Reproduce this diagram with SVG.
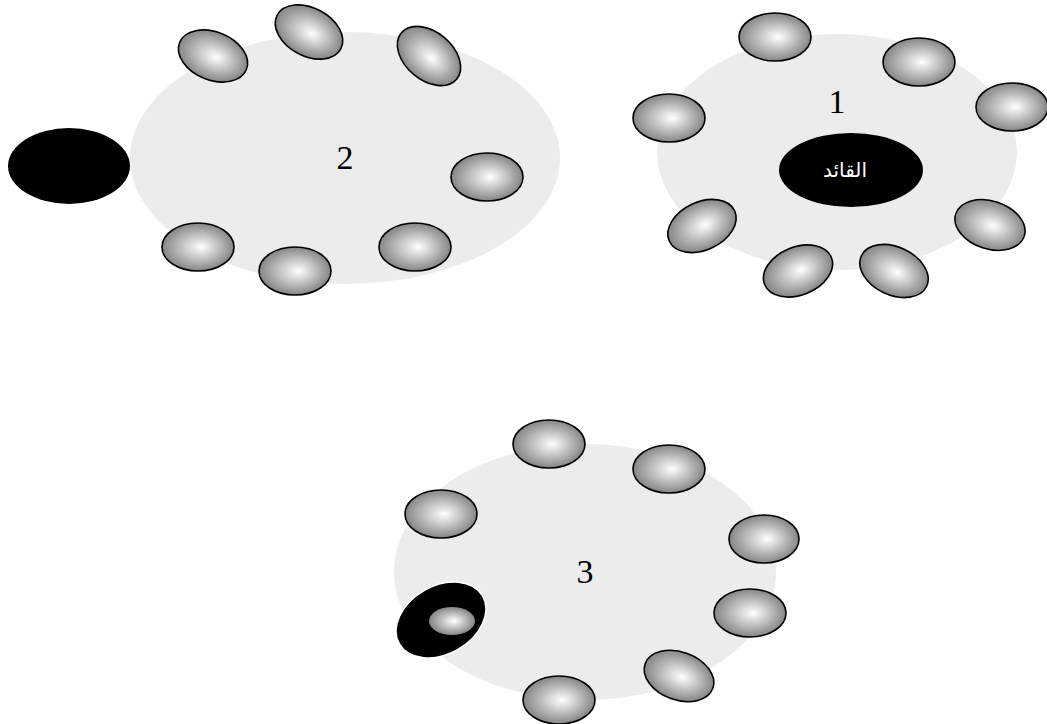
<svg xmlns="http://www.w3.org/2000/svg" width="1047" height="724" viewBox="0 0 1047 724">
<defs>
<radialGradient id="g" cx="0.5" cy="0.5" r="0.5" fx="0.55" fy="0.5">
<stop offset="0" stop-color="#ffffff"/>
<stop offset="1" stop-color="#858585"/>
</radialGradient>
<style>
.big{fill:#ececec;stroke:none}
.m{fill:url(#g);stroke:#000;stroke-width:1.6}
.num{font-family:"Liberation Serif",serif;font-size:34px;fill:#000;text-anchor:middle}
.lead{fill:#000}
</style>
</defs>
<rect width="1047" height="724" fill="#fff"/>
<g id="group1">
<ellipse class="big" cx="837" cy="152" rx="180" ry="118"/>
<ellipse class="m" cx="775" cy="37" rx="36" ry="24"/>
<ellipse class="m" cx="919" cy="62" rx="36" ry="24"/>
<ellipse class="m" cx="1012" cy="107" rx="36" ry="24"/>
<ellipse class="m" cx="669" cy="118" rx="36" ry="24"/>
<ellipse class="m" cx="702" cy="226" rx="36" ry="24" transform="rotate(-25 702 226)"/>
<ellipse class="m" cx="798" cy="271" rx="36" ry="24" transform="rotate(-22 798 271)"/>
<ellipse class="m" cx="894" cy="271" rx="36" ry="24" transform="rotate(25 894 271)"/>
<ellipse class="m" cx="990" cy="225" rx="36" ry="24" transform="rotate(18 990 225)"/>
<text class="num" x="837" y="113">1</text>
<g id="leader">
<ellipse class="lead" cx="851" cy="170" rx="72" ry="37"/>
<text x="845" y="177" font-family="'DejaVu Sans',sans-serif" font-size="20" fill="#fff" text-anchor="middle" direction="rtl">القائد</text>
</g>
</g>
<g id="group2">
<ellipse class="big" cx="345" cy="158" rx="215" ry="126"/>
<ellipse class="lead" cx="69" cy="166" rx="61" ry="38"/>
<ellipse class="m" cx="213" cy="56" rx="36" ry="24" transform="rotate(22 213 56)"/>
<ellipse class="m" cx="309" cy="32" rx="36" ry="24" transform="rotate(28 309 32)"/>
<ellipse class="m" cx="429" cy="56" rx="36" ry="24" transform="rotate(40 429 56)"/>
<ellipse class="m" cx="487" cy="177" rx="36" ry="24"/>
<ellipse class="m" cx="198" cy="247" rx="36" ry="24"/>
<ellipse class="m" cx="295" cy="271" rx="36" ry="24"/>
<ellipse class="m" cx="415" cy="247" rx="36" ry="24"/>
<text class="num" x="345" y="169">2</text>
</g>
<g id="group3">
<ellipse class="big" cx="585" cy="572" rx="191" ry="128"/>
<ellipse class="m" cx="549" cy="444" rx="36" ry="24"/>
<ellipse class="m" cx="669" cy="469" rx="36" ry="24"/>
<ellipse class="m" cx="441" cy="514" rx="36" ry="24"/>
<ellipse class="m" cx="764" cy="539" rx="35" ry="24"/>
<ellipse class="m" cx="750" cy="613" rx="36" ry="24"/>
<ellipse class="m" cx="679" cy="676" rx="36" ry="24" transform="rotate(20 679 676)"/>
<ellipse class="m" cx="559" cy="700" rx="36" ry="24"/>
<ellipse cx="441" cy="620" rx="48" ry="34" transform="rotate(-30 441 620)" fill="#000" stroke="#fff" stroke-width="1.5"/>
<ellipse cx="452" cy="621" rx="23" ry="14" fill="url(#g)"/>
<text class="num" x="585" y="583">3</text>
</g>
</svg>
